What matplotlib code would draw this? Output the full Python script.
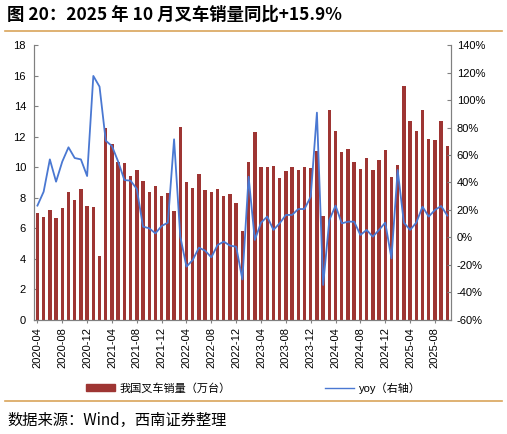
import matplotlib.pyplot as plt
import numpy as np
from matplotlib.lines import Line2D

plt.rcParams['font.family'] = ['Liberation Sans', 'Noto Sans CJK SC', 'DejaVu Sans']

# monthly data 2020-04 .. 2025-10
months = [f"{y}-{m:02d}" for y in range(2020, 2026) for m in range(1, 13)]
months = months[months.index("2020-04"):months.index("2025-10") + 1]

sales = [6.98, 6.74, 7.20, 6.65, 7.31, 8.38, 7.85, 8.58, 7.48, 7.42,
         4.17, 12.57, 11.54, 10.34, 10.26, 9.43, 9.84, 9.08, 8.38, 8.77,
         8.12, 8.31, 7.11, 12.61, 9.03, 8.66, 9.58, 8.51, 8.38, 8.58,
         8.14, 8.27, 7.64, 5.83, 10.34, 12.31, 10.02, 10.04, 10.06, 9.32,
         9.75, 9.99, 9.82, 9.99, 9.97, 11.06, 6.81, 13.75, 12.37, 11.02,
         11.19, 10.36, 9.88, 10.60, 9.84, 10.49, 11.15, 9.36, 10.15, 15.32,
         13.03, 12.35, 13.75, 11.87, 11.80, 13.03, 11.41]

yoy = [23.2, 33.3, 56.8, 40.6, 55.2, 65.6, 57.8, 56.8, 44.7, 117.5,
       109.7, 70.4, 66.5, 55.2, 41.8, 41.3, 35.3, 7.9, 6.7, 3.0,
       8.4, 10.8, 71.4, 0.6, -21.2, -16.4, -7.4, -9.6, -14.4, -5.5,
       -3.0, -5.9, -6.7, -30.5, 44.2, -1.8, 10.8, 15.2, 5.5, 10.3,
       16.4, 16.4, 20.7, 20.7, 29.7, 90.8, -34.5, 12.7, 23.2, 10.3,
       11.5, 11.5, 1.8, 5.5, 0.6, 5.5, 10.8, -15.2, 49.1, 10.8,
       5.5, 10.8, 22.4, 15.2, 20.0, 22.9, 15.9]

bar_color = "#9E3533"
line_color = "#4A78D2"
gold = "#D9A45A"
grey = "#808080"

fig = plt.figure(figsize=(5.07, 4.34), dpi=100)
ax = fig.add_axes([0.0677, 0.2627, 0.822, 0.6336])
ax2 = ax.twinx()

x = np.arange(len(months))
ax.bar(x, sales, width=0.55, color=bar_color, zorder=2)
ax2.plot(x, yoy, color=line_color, lw=1.3, zorder=3)

ax.set_xlim(-0.5, len(months) - 0.4)
ax.set_ylim(0, 18)
ax.set_yticks(range(0, 19, 2))
ax2.set_ylim(-60, 140)
ax2.set_yticks(range(-60, 141, 20))
ax2.set_yticklabels([f"{v}%" for v in range(-60, 141, 20)])

tick_idx = list(range(0, len(months), 4))
ax.set_xticks(tick_idx)
ax.set_xticklabels([months[i] for i in tick_idx], rotation=90)

for a in (ax, ax2):
    a.spines['top'].set_visible(False)
    for s in ('left', 'right', 'bottom'):
        a.spines[s].set_color(grey)
        a.spines[s].set_linewidth(0.8)
ax.tick_params(axis='y', direction='in', length=3, color=grey, labelsize=8, pad=6)
ax2.tick_params(axis='y', direction='in', length=3, color=grey, labelsize=8, pad=4)
ax.tick_params(axis='x', direction='out', length=2, color=grey, labelsize=8, pad=3)

handles = [plt.Rectangle((0, 0), 1, 1, color=bar_color),
           Line2D([0], [0], color=line_color, lw=1)]
fig.legend(handles, ["我国叉车销量（万台）", "yoy（右轴）"], loc='center',
           bbox_to_anchor=(0.5, 1 - 388 / 434), ncol=2, frameon=False,
           fontsize=8, handlelength=2.6, handleheight=0.6,
           columnspacing=8.5, handletextpad=0.4)

fig.text(7 / 507, 1 - 15 / 434, "图 20：2025 年 10 月叉车销量同比+15.9%",
         fontsize=12.5, fontweight='bold', va='center', ha='left',
         family=['Noto Sans CJK SC', 'DejaVu Sans'])
fig.add_artist(Line2D([5 / 507, 502 / 507], [1 - 31 / 434, 1 - 31 / 434],
                      color=gold, lw=1.2))
fig.add_artist(Line2D([5 / 507, 502 / 507], [1 - 401 / 434, 1 - 401 / 434],
                      color=gold, lw=1.2))
fig.text(7 / 507, 1 - 420 / 434, "数据来源：Wind，西南证券整理",
         fontsize=11, style='italic', va='center', ha='left',
         family=['Noto Sans CJK SC', 'DejaVu Sans'])

fig.savefig("out.png", dpi=100)
